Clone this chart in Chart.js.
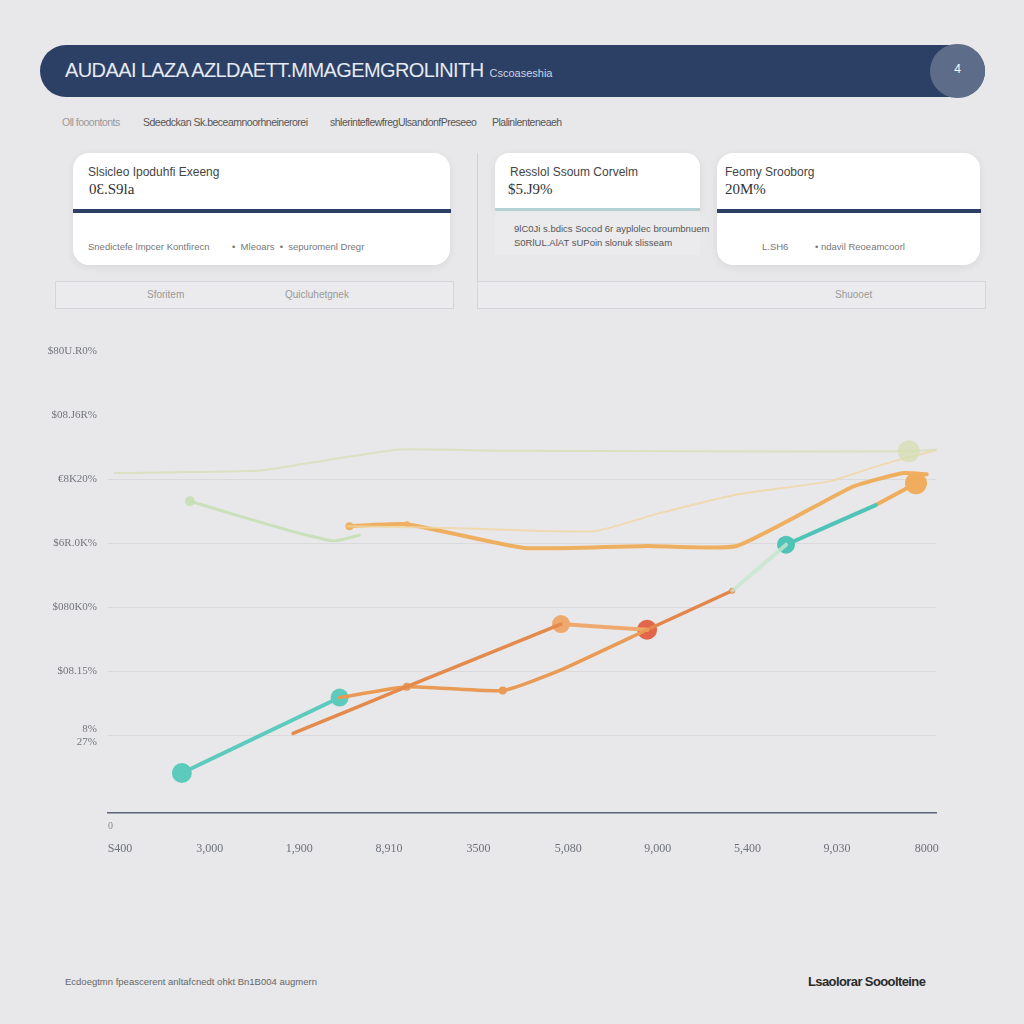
<!DOCTYPE html>
<html>
<head>
<meta charset="utf-8">
<script src="https://cdn.jsdelivr.net/npm/chart.js@4"></script>
<style>
  body { margin:0; width:1024px; height:1024px; background:#e8e8ea; font-family:"Liberation Sans", Arial, sans-serif; position:relative; overflow:hidden; }
  .abs { position:absolute; }
  #header { left:40px; top:45px; width:945px; height:52px; background:#2c4066; border-radius:26px; }
  #title { left:25px; top:14px; color:#e6eaf2; font-size:20px; letter-spacing:-0.6px; white-space:nowrap; font-family:"Liberation Sans Narrow","Liberation Sans",sans-serif; }
  #title small { font-size:11px; letter-spacing:0; margin-left:6px; color:#cdd4e2; }
  #badge { left:890px; top:-1px; width:55px; height:54px; border-radius:27px; background:#5d6c89; color:#fff; font-size:12px; text-align:center; line-height:50px; }
  .nav { top:116px; font-size:10.5px; color:#555; white-space:nowrap; letter-spacing:-0.5px; }
  .card { background:#fff; border-radius:16px; box-shadow:0 2px 8px rgba(0,0,0,0.07); }
  .ct { font-size:12px; color:#444; white-space:nowrap; }
  .cv { font-size:15px; color:#333; white-space:nowrap; font-family:"Liberation Serif",serif; }
  .bar { height:4px; background:#2c4066; }
  .cf { font-size:9.5px; color:#777; white-space:nowrap; }
  .box { border:1px solid #d6d6da; background:#ebebed; }
  .bt { font-size:10px; color:#999; white-space:nowrap; }
  #chartWrap { left:40px; top:330px; width:920px; height:540px; }
</style>
</head>
<body>
<div id="header" class="abs">
  <div id="title" class="abs">AUDAAI LAZA AZLDAETT.MMAGEMGROLINITH<small>Cscoaseshia</small></div>
  <div id="badge" class="abs">4</div>
</div>
<div class="abs nav" style="left:62px;color:#999;">Oll fooontonts</div>
<div class="abs nav" style="left:143px;">Sdeedckan Sk.beceamnoorhneinerorei</div>
<div class="abs nav" style="left:330px;">shlerinteflewfregUlsandonfPreseeo</div>
<div class="abs nav" style="left:492px;">Plalinlenteneaeh</div>

<div class="abs card" style="left:73px;top:153px;width:377px;height:112px;"></div>
<div class="abs ct" style="left:88px;top:165px;">Slsicleo Ipoduhfi Exeeng</div>
<div class="abs cv" style="left:89px;top:181px;">0Ɛ.S9la</div>
<div class="abs bar" style="left:73px;top:209px;width:378px;"></div>
<div class="abs cf" style="left:88px;top:241px;">Snedictefe lmpcer Kontfirecn</div>
<div class="abs cf" style="left:232px;top:241px;">•&nbsp; Mleoars &nbsp;• &nbsp;sepuromenl Dregr</div>

<div class="abs box" style="left:55px;top:281px;width:397px;height:26px;"></div>
<div class="abs bt" style="left:147px;top:289px;">Sforitem</div>
<div class="abs bt" style="left:285px;top:289px;">Quicluhetgnek</div>

<div class="abs" style="left:477px;top:153px;width:1px;height:130px;background:#cfcfd3;"></div>
<div class="abs box" style="left:477px;top:281px;width:507px;height:26px;"></div>
<div class="abs bt" style="left:835px;top:289px;">Shuooet</div>

<div class="abs card" style="left:495px;top:153px;width:205px;height:58px;border-radius:14px 14px 0 0;"></div>
<div class="abs" style="left:495px;top:211px;width:205px;height:44px;background:#ebebed;"></div>
<div class="abs ct" style="left:510px;top:165px;">Resslol Ssoum Corvelm</div>
<div class="abs cv" style="left:508px;top:181px;">$5.J9%</div>
<div class="abs" style="left:495px;top:208px;width:205px;height:3px;background:#b3d1d2;"></div>
<div class="abs cf" style="left:514px;top:223px;color:#555;">9lC0Ji s.bdics Socod 6r ayplolec broumbnuem</div>
<div class="abs cf" style="left:514px;top:237px;color:#555;">S0RlUL.AlAT sUPoin slonuk slisseam</div>

<div class="abs card" style="left:717px;top:153px;width:263px;height:112px;"></div>
<div class="abs ct" style="left:725px;top:165px;">Feomy Srooborg</div>
<div class="abs cv" style="left:725px;top:181px;">20M%</div>
<div class="abs bar" style="left:717px;top:209px;width:264px;"></div>
<div class="abs cf" style="left:762px;top:241px;">L.SH6</div>
<div class="abs cf" style="left:815px;top:241px;">• ndavil Reoeamcoorl</div>

<div id="chartWrap" class="abs"><canvas id="chart"></canvas></div>
<div class="abs" style="left:108px;top:820px;font-size:10px;color:#888;font-family:'Liberation Serif',serif;">0</div>

<div class="abs" style="left:65px;top:976px;font-size:9.5px;color:#666;white-space:nowrap;">Ecdoegtmn fpeascerent anltafcnedt ohkt Bn1B004 augmern</div>
<div class="abs" style="left:808px;top:974px;font-size:13px;color:#2a2a2a;font-weight:bold;letter-spacing:-0.6px;white-space:nowrap;">Lsaolorar Sooolteine</div>

<script>
// axis labels
var xLabels = ["S400", "3,000", "1,900", "8,910", "3500", "5,080", "9,000", "5,400", "9,030", "8000"];
var yLabels = [["8%", "27%"], "$08.15%", "$080K0%", "$6R.0K%", "€8K20%", "$08.J6R%", "$80U.R0%"];

// series (x in category steps, y in grid steps)
var tealLowX = [0.69, 2.45];
var tealLowY = [0.41, 1.59];
var orangeLowX = [2.45, 3.20, 4.27, 4.90, 5.88];
var orangeLowY = [1.59, 1.76, 1.70, 2.01, 2.65];
var rustX = [1.93, 3.20, 4.92];
var rustY = [1.03, 1.76, 2.74];
var peachX = [4.92, 5.88];
var peachY = [2.74, 2.65];
var rustUpX = [5.88, 6.83];
var rustUpY = [2.65, 3.26];
var mintX = [6.83, 7.43];
var mintY = [3.26, 3.98];
var tealHighX = [7.43, 8.43];
var tealHighY = [3.98, 4.60];
var orangeEndX = [8.43, 8.88];
var orangeEndY = [4.60, 4.94];
var orangeTopX = [2.56, 3.20, 4.51, 5.88, 6.88, 8.18, 8.74, 9.0];
var orangeTopY = [4.27, 4.30, 3.93, 3.96, 3.96, 4.89, 5.10, 5.08];
var yellowX = [2.54, 3.67, 5.29, 6.01, 6.90, 7.91, 8.52, 9.19];
var yellowY = [4.27, 4.24, 4.19, 4.47, 4.77, 4.97, 5.24, 5.49];
var paleX = [-0.06, 1.56, 2.34, 3.12, 4.23, 6.46, 8.80, 9.19];
var paleY = [5.10, 5.14, 5.31, 5.47, 5.45, 5.44, 5.44, 5.47];
var greenX = [0.78, 1.45, 2.0, 2.39, 2.67];
var greenY = [4.66, 4.38, 4.16, 4.04, 4.13];

function pts(xs, ys) {
  var out = [];
  for (var i in xs) out.push({x: xs[i], y: ys[i]});
  return out;
}

function line(xs, ys, color, width, radius) {
  return {
    data: pts(xs, ys),
    borderColor: color,
    backgroundColor: color,
    borderWidth: width,
    pointRadius: radius,
    pointBorderWidth: 0,
    tension: 0.15,
    borderCapStyle: 'round',
    borderJoinStyle: 'round'
  };
}

var ctx = document.getElementById('chart');
var chart = new Chart(ctx, {
  type: 'line',
  data: {
    datasets: [
      line(paleX, paleY, 'rgba(214,222,178,0.75)', 2, [0,0,0,0,0,0,11,0]),
      line(yellowX, yellowY, 'rgba(240,214,160,0.8)', 2, 0),
      line(greenX, greenY, 'rgba(196,222,178,0.85)', 3, [5,0,0,0,0]),
      line(orangeTopX, orangeTopY, '#eeb060', 4, [4,3,0,2,0,0,0,0]),
      line(mintX, mintY, 'rgba(196,230,206,0.8)', 4, 0),
      line(rustX, rustY, '#e48a4c', 3.5, 0),
      line(orangeLowX, orangeLowY, '#e99a55', 3.5, [0,4,4,0,0]),
      line(peachX, peachY, '#efa96e', 4, [9,0]),
      line(rustUpX, rustUpY, '#e4864a', 3.5, [0,3]),
      line(tealLowX, tealLowY, '#5ccbbd', 4, [10,9]),
      line(tealHighX, tealHighY, '#4fc4b6', 4, [9,0]),
      line(orangeEndX, orangeEndY, '#f0ad5e', 4, [0,11]),
      line([5.88], [2.65], '#e2664a', 0, 10)
    ]
  },
  options: {
    responsive: true,
    maintainAspectRatio: false,
    animation: false,
    layout: { padding: { top: 4, right: 22, bottom: 0, left: 0 } },
    plugins: { legend: { display: false }, tooltip: { enabled: false } },
    scales: {
      x: {
        type: 'linear',
        min: -0.134,
        max: 9.11,
        afterBuildTicks: function(scale) {
          scale.ticks = xLabels.map(function(l, i) { return {value: i}; });
        },
        afterFit: function(scale) { scale.height = 57; },
        ticks: {
          padding: 21,
          color: '#6d717b',
          font: { family: 'Liberation Serif', size: 12 },
          maxRotation: 0,
          autoSkip: false,
          callback: function(v) { return xLabels[Math.round(v)]; }
        },
        grid: { display: false },
        border: { display: true, color: '#5b6479', width: 1.5 }
      },
      y: {
        min: -0.215,
        max: 7.062,
        afterBuildTicks: function(scale) {
          scale.ticks = yLabels.map(function(l, i) { return {value: i + 1}; });
        },
        afterFit: function(scale) { scale.width = 68; },
        ticks: {
          padding: 11,
          color: '#73767e',
          font: { family: 'Liberation Serif', size: 11 },
          callback: function(v) { return yLabels[Math.round(v) - 1]; }
        },
        grid: {
          drawTicks: false,
          color: function(c) { return c.tick && c.tick.value >= 6 ? 'rgba(0,0,0,0)' : '#dadadd'; }
        },
        border: { display: false }
      }
    }
  }
});
</script>
</body>
</html>
